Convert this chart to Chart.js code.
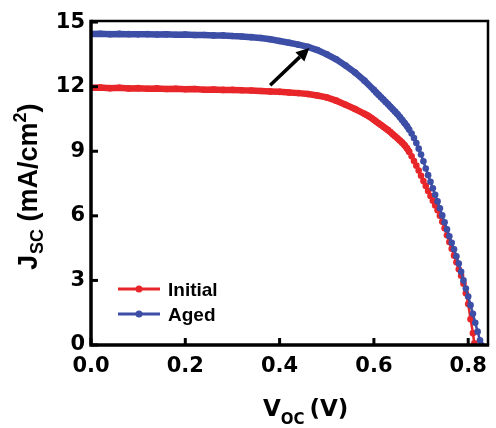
<!DOCTYPE html>
<html><head><meta charset="utf-8">
<script src="https://cdn.jsdelivr.net/npm/chart.js@4/dist/chart.umd.min.js"></script>
<style>html,body{margin:0;padding:0;background:#fff}canvas{display:block}</style>
</head><body><canvas id="c" width="496" height="428"></canvas>
<script>
// ---- data ----
const seriesNames = ['Initial', 'Aged'];
const seriesColors = ['#e8262a', '#3d4ea6'];

const voltageInitial = [0.00,0.02,0.04,0.06,0.08,0.10,0.12,0.14,0.16,0.18,0.20,0.22,0.24,0.26,0.28,0.30,0.32,0.34,0.36,0.38,0.40,0.42,0.44,0.46,0.48,0.50,0.52,0.54,0.56,
  0.580,0.585,0.590,0.595,0.600,0.605,0.610,0.615,0.620,0.625,0.630,0.635,0.640,0.645,0.650,0.655,0.660,0.665,0.670,0.675,0.680,0.685,0.690,0.695,0.700,0.705,0.710,0.715,0.720,0.725,0.730,0.735,0.740,0.745,0.750,0.755,0.760,0.765,0.770,0.775,0.780,0.785,0.790,0.795,0.800,0.805,0.810,0.813];
const jscInitial = [11.95,11.96,11.93,11.95,11.92,11.93,11.90,11.92,11.89,11.90,11.88,11.89,11.86,11.87,11.85,11.85,11.83,11.82,11.80,11.78,11.76,11.73,11.70,11.66,11.59,11.50,11.35,11.16,10.96,
  10.74,10.68,10.61,10.54,10.46,10.38,10.30,10.22,10.14,10.06,9.98,9.89,9.79,9.70,9.60,9.50,9.40,9.28,9.14,8.97,8.77,8.55,8.33,8.10,7.86,7.62,7.39,7.15,6.92,6.70,6.48,6.26,6.00,5.72,5.42,5.10,4.78,4.47,4.15,3.84,3.52,3.22,2.85,2.40,1.90,1.20,0.55,0.08];

const voltageAged = [0.00,0.02,0.04,0.06,0.08,0.10,0.12,0.14,0.16,0.18,0.20,0.22,0.24,0.26,0.28,0.30,0.32,0.34,0.36,0.38,0.40,0.42,0.44,0.46,0.48,0.50,0.52,0.54,0.56,0.58,
  0.600,0.605,0.610,0.615,0.620,0.625,0.630,0.635,0.640,0.645,0.650,0.655,0.660,0.665,0.670,0.675,0.680,0.685,0.690,0.695,0.700,0.705,0.710,0.715,0.720,0.725,0.730,0.735,0.740,0.745,0.750,0.755,0.760,0.765,0.770,0.775,0.780,0.785,0.790,0.795,0.800,0.805,0.810,0.815,0.820,0.825,0.828];
const jscAged = [14.45,14.46,14.44,14.45,14.44,14.43,14.44,14.42,14.43,14.41,14.42,14.40,14.40,14.38,14.38,14.35,14.33,14.30,14.26,14.20,14.12,14.04,13.95,13.85,13.70,13.50,13.27,12.98,12.66,12.28,
  11.85,11.73,11.62,11.51,11.40,11.29,11.18,11.07,10.95,10.84,10.72,10.59,10.45,10.31,10.17,10.00,9.82,9.61,9.38,9.12,8.85,8.53,8.20,7.89,7.58,7.28,6.98,6.67,6.35,6.02,5.70,5.37,5.05,4.75,4.45,4.12,3.78,3.40,3.00,2.62,2.25,1.85,1.45,1.03,0.62,0.22,0.00];

const xTickValues = [0.0, 0.2, 0.4, 0.6, 0.8];
const yTickValues = [0, 3, 6, 9, 12, 15];
const xRange = [0, 0.842];
const yRange = [0, 15.05];
const arrowFrom = [0.380, 12.07];
const arrowTo = [0.463, 13.80];

// ---- chart ----
const TICK_FONT = {family: 'DejaVu Sans', weight: 'bold', size: 21};

function toPoints(xs, ys) { return xs.map((v, i) => ({x: v, y: ys[i]})); }

function segWidth(ctx) {
  const dx = Math.abs(ctx.p1.x - ctx.p0.x), dy = Math.abs(ctx.p1.y - ctx.p0.y);
  return dy > 1.6 * dx ? 2.5 : 6.5;
}

function makeDataset(i, xs, ys, order) {
  return {
    label: seriesNames[i],
    data: toPoints(xs, ys),
    borderColor: seriesColors[i],
    backgroundColor: seriesColors[i],
    pointBackgroundColor: seriesColors[i],
    pointBorderWidth: 0,
    pointRadius: 3.3,
    borderWidth: 6.5,
    segment: {borderWidth: segWidth},
    tension: 0,
    order: order
  };
}

const frame = {
  id: 'frame',
  afterDatasetsDraw(chart) {
    const {ctx, chartArea: a, scales: {x, y}} = chart;
    ctx.save();
    ctx.strokeStyle = '#000';
    ctx.lineCap = 'butt';
    ctx.lineWidth = 2.5;
    ctx.beginPath();
    ctx.moveTo(a.left, a.top); ctx.lineTo(a.right, a.top); ctx.lineTo(a.right, a.bottom);
    ctx.stroke();
    ctx.lineWidth = 3.5;
    ctx.beginPath();
    ctx.moveTo(a.left, a.top - 1.2); ctx.lineTo(a.left, a.bottom); ctx.lineTo(a.right + 1.2, a.bottom);
    ctx.stroke();
    ctx.lineWidth = 3;
    xTickValues.forEach(v => {
      const px = x.getPixelForValue(v);
      ctx.beginPath(); ctx.moveTo(px, a.bottom); ctx.lineTo(px, a.bottom - 7); ctx.stroke();
    });
    yTickValues.forEach(v => {
      const py = y.getPixelForValue(v);
      ctx.beginPath(); ctx.moveTo(a.left, py); ctx.lineTo(a.left + 7, py); ctx.stroke();
    });
    // arrow
    const x0 = x.getPixelForValue(arrowFrom[0]), y0 = y.getPixelForValue(arrowFrom[1]);
    const x1 = x.getPixelForValue(arrowTo[0]), y1 = y.getPixelForValue(arrowTo[1]);
    const ang = Math.atan2(y1 - y0, x1 - x0);
    const hl = 13, hw = 6.5;
    const bx = x1 - hl * Math.cos(ang), by = y1 - hl * Math.sin(ang);
    ctx.lineWidth = 3.5;
    ctx.beginPath(); ctx.moveTo(x0, y0); ctx.lineTo(bx, by); ctx.stroke();
    ctx.fillStyle = '#000';
    ctx.beginPath();
    ctx.moveTo(x1, y1);
    ctx.lineTo(bx + hw * Math.sin(ang), by - hw * Math.cos(ang));
    ctx.lineTo(bx - hw * Math.sin(ang), by + hw * Math.cos(ang));
    ctx.closePath(); ctx.fill();
    ctx.restore();
  },
  afterDraw(chart) {
    const {ctx} = chart;
    ctx.save();
    // legend
    const legY = [289, 314];
    ctx.font = 'bold 19px "Liberation Sans", Arial, sans-serif';
    ctx.textBaseline = 'alphabetic';
    ctx.textAlign = 'left';
    seriesNames.forEach((name, i) => {
      ctx.strokeStyle = seriesColors[i];
      ctx.fillStyle = seriesColors[i];
      ctx.lineWidth = 3;
      ctx.beginPath(); ctx.moveTo(118, legY[i]); ctx.lineTo(160, legY[i]); ctx.stroke();
      ctx.beginPath(); ctx.arc(139, legY[i], 3.5, 0, Math.PI * 2); ctx.fill();
      ctx.fillStyle = '#000';
      ctx.fillText(name, 168, legY[i] + 7);
    });
    // x title: V_OC (V)
    ctx.fillStyle = '#000';
    let cx = 263;
    ctx.font = 'bold 23px "DejaVu Sans", sans-serif';
    ctx.fillText('V', cx, 416); cx += ctx.measureText('V').width;
    ctx.font = 'bold 15px "DejaVu Sans", sans-serif';
    ctx.fillText('OC', cx, 424); cx += ctx.measureText('OC').width + 5;
    ctx.font = 'bold 23px "DejaVu Sans", sans-serif';
    ctx.fillText('(V)', cx, 416);
    // y title: J_SC (mA/cm^2)
    ctx.translate(37, 270);
    ctx.rotate(-Math.PI / 2);
    let ty = 0;
    const big = 'bold 27px "Liberation Sans", Arial, sans-serif';
    const small = 'bold 18px "Liberation Sans", Arial, sans-serif';
    ctx.font = big; ctx.fillText('J', ty, 0); ty += ctx.measureText('J').width + 1;
    ctx.font = small; ctx.fillText('SC', ty, 6); ty += ctx.measureText('SC').width;
    ctx.font = big; ctx.fillText(' (mA/cm', ty, 0); ty += ctx.measureText(' (mA/cm').width;
    ctx.font = small; ctx.fillText('2', ty, -11); ty += ctx.measureText('2').width;
    ctx.font = big; ctx.fillText(')', ty, 0);
    ctx.restore();
  }
};

new Chart(document.getElementById('c'), {
  type: 'line',
  data: {
    datasets: [
      makeDataset(0, voltageInitial, jscInitial, 2),
      makeDataset(1, voltageAged, jscAged, 1)
    ]
  },
  options: {
    responsive: false,
    animation: false,
    layout: {padding: {left: 0, top: 21, right: 3, bottom: 0}},
    plugins: {legend: {display: false}, tooltip: {enabled: false}},
    scales: {
      x: {
        type: 'linear', min: xRange[0], max: xRange[1],
        afterFit(s) { s.height = 83; },
        afterBuildTicks(s) { s.ticks = xTickValues.map(v => ({value: v})); },
        grid: {display: false, drawTicks: false},
        border: {display: false},
        ticks: {font: TICK_FONT, color: '#000', padding: 9, maxRotation: 0,
          callback: v => Number(v).toFixed(1)}
      },
      y: {
        type: 'linear', min: yRange[0], max: yRange[1],
        afterFit(s) { s.width = 91; },
        afterBuildTicks(s) { s.ticks = yTickValues.map(v => ({value: v})); },
        grid: {display: false, drawTicks: false},
        border: {display: false},
        ticks: {font: TICK_FONT, color: '#000', padding: 6,
          callback: v => String(v)}
      }
    }
  },
  plugins: [frame]
});
</script>
</body></html>
